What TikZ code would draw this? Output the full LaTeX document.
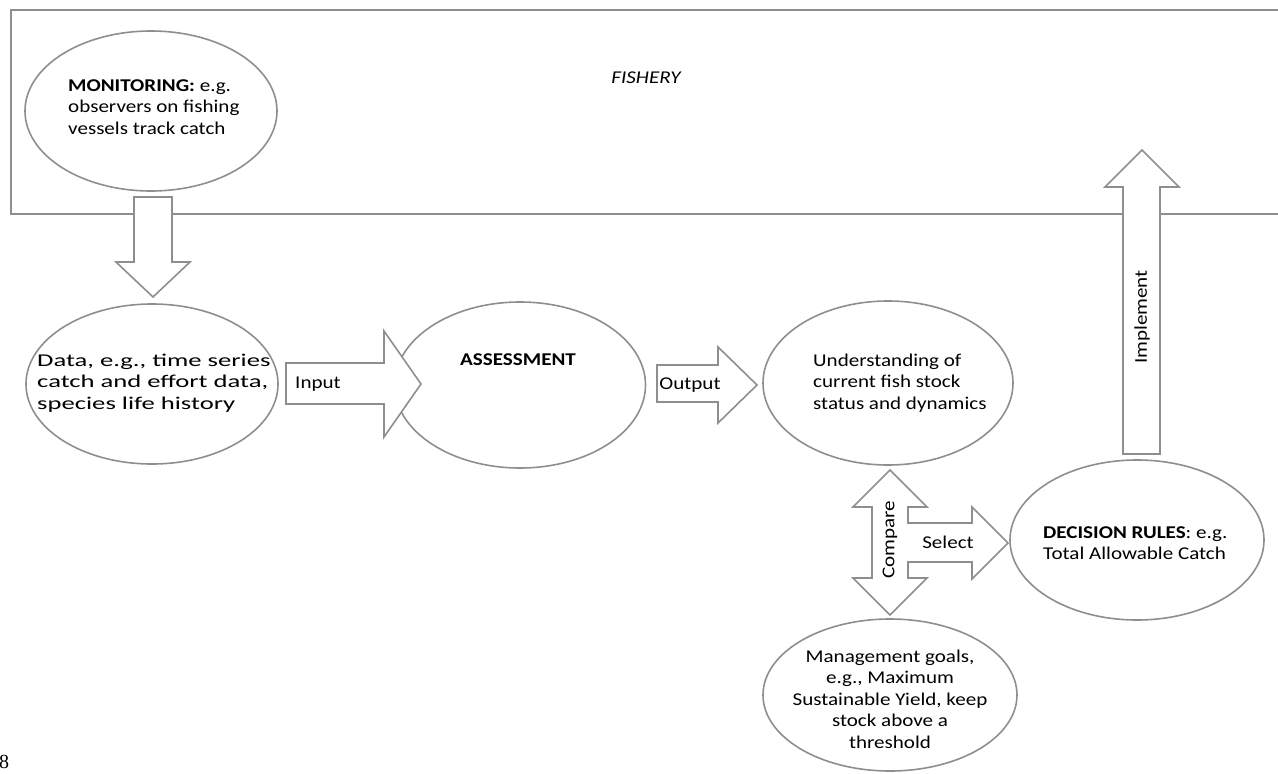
\documentclass[tikz,border=0pt]{standalone}
\usepackage{fontspec}
\setmainfont{Carlito}[FakeStretch=1.17]
\newfontfamily\widefont{Carlito}[FakeStretch=1.48]
\newfontfamily\timesfont{Liberation Serif}
\usetikzlibrary{shapes.geometric}
\definecolor{edge}{HTML}{8E8E8E}
\begin{document}
\begin{tikzpicture}[x=1pt,y=-1pt,
  shp/.style={draw=edge,line width=1.6pt,fill=white,line join=miter},
  oval/.style={draw=edge,line width=1.6pt,ellipse,inner sep=0pt},
  txt/.style={font=\fontsize{18}{21.5}\selectfont,inner sep=0pt,align=left},
  ctxt/.style={font=\fontsize{18}{21.5}\selectfont,inner sep=0pt,align=center},
]
\useasboundingbox (0,0) rectangle (1278,774);
% fishery frame (open to the right)
\coordinate (fr1) at (1290,10);
\coordinate (fr2) at (11,10);
\coordinate (fr3) at (11,214);
\coordinate (fr4) at (1290,214);
\draw[edge,line width=1.6pt] (fr1) -- (fr2) -- (fr3) -- (fr4);
\node[ctxt] (fishery) at (646,78) {\itshape FISHERY};

% ellipses
\node[oval,minimum width=252pt,minimum height=160pt] (mon) at (151,111) {};
\node[txt,anchor=west] (montxt) at (68,107) {\textbf{MONITORING:} e.g.\\observers on fishing\\vessels track catch};

\node[oval,minimum width=252pt,minimum height=160pt] (data) at (152,384) {};
\node[txt,anchor=west,font=\widefont\fontsize{18}{21.5}\selectfont] (datatxt) at (37,383) {Data, e.g., time series\\catch and effort data,\\species life history};

\node[oval,minimum width=251pt,minimum height=166pt] (assess) at (520,385) {};
\node[ctxt] (assesstxt) at (518,360) {\textbf{ASSESSMENT}};

\node[oval,minimum width=250pt,minimum height=164pt] (under) at (888,383) {};
\node[txt,anchor=west] (undertxt) at (813,383) {Understanding of\\current fish stock\\status and dynamics};

\node[oval,minimum width=254pt,minimum height=152pt] (goals) at (890,695) {};
\node[ctxt] (goalstxt) at (890,699) {Management goals,\\e.g., Maximum\\Sustainable Yield, keep\\stock above a\\threshold};

\node[oval,minimum width=254pt,minimum height=160pt] (dec) at (1137,540) {};
\node[txt,anchor=west] (dectxt) at (1043,543) {\textbf{DECISION RULES}: e.g.\\Total Allowable Catch};

% block arrows
\draw[shp] (134,197) -- (172,197) -- (172,262) -- (190,262) -- (153,297) -- (116,262) -- (134,262) -- cycle;

\draw[shp] (286,363) -- (384,363) -- (384,331) -- (421,384) -- (384,437) -- (384,404) -- (286,404) -- cycle;
\node[ctxt] (inputlbl) at (318,384) {Input};

\draw[shp] (657,365) -- (718,365) -- (718,347) -- (757,385) -- (718,423) -- (718,402) -- (657,402) -- cycle;
\node[ctxt] (outputlbl) at (690,385) {Output};

\draw[shp] (890,470) -- (927,507) -- (908,507) -- (908,523) -- (972,523) -- (972,507) -- (1008,543)
  -- (972,579) -- (972,562) -- (908,562) -- (908,578) -- (927,578) -- (890,615) -- (853,578)
  -- (872,578) -- (872,507) -- (853,507) -- cycle;
\node[ctxt,rotate=90] (comparelbl) at (890,540) {Compare};
\node[ctxt] (selectlbl) at (948,542) {Select};

\draw[shp] (1123,454) -- (1123,187) -- (1105,187) -- (1142,150) -- (1179,187) -- (1160,187) -- (1160,454) -- cycle;
\node[ctxt,rotate=90] (implbl) at (1142,317) {Implement};

\node[font=\timesfont\fontsize{20}{22}\selectfont,inner sep=0pt,anchor=west] (pagenum) at (-1,762) {8};
\end{tikzpicture}
\end{document}
